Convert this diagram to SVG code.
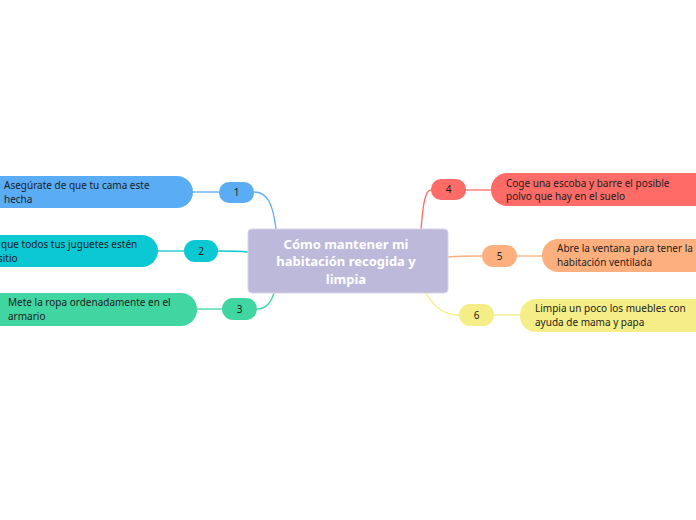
<svg xmlns="http://www.w3.org/2000/svg" width="696" height="520" viewBox="0 0 696 520">
<style>
.t{font-family:"Noto Sans","Open Sans","DejaVu Sans",sans-serif;font-size:10px;fill:#1d1d1d}
.n{font-family:"Noto Sans","Open Sans","DejaVu Sans",sans-serif;font-size:10px;fill:#1d1d1d;text-anchor:middle}
.c{font-family:"Noto Sans","Open Sans","DejaVu Sans",sans-serif;font-size:13px;font-weight:bold;fill:#ffffff;text-anchor:middle}
.l{fill:none;stroke-width:1.3}
</style>
<rect width="696" height="520" fill="#ffffff"/>
<g id="connectors">
<path class="l" stroke="#5aacf5" d="M276 229 C273 205 268 192 254 192"/>
<path class="l" stroke="#5aacf5" d="M219 192 L193 192"/>
<path class="l" stroke="#0bc8d3" d="M248 252 C238 251 228 251 218 251"/>
<path class="l" stroke="#0bc8d3" d="M184 251 L158 251"/>
<path class="l" stroke="#41d6a1" d="M274 293 C271 303 266 309 257 309"/>
<path class="l" stroke="#41d6a1" d="M222 309 L197 309"/>
<path class="l" stroke="#ff6b66" d="M421 229 C423 205 425 190 431 190"/>
<path class="l" stroke="#ff6b66" d="M466 190 L491 190"/>
<path class="l" stroke="#fdb07e" d="M448 257 C460 256 470 256 482 256"/>
<path class="l" stroke="#fdb07e" d="M517 256 L542 256"/>
<path class="l" stroke="#f5ee86" d="M426 293 C433 306 444 315 459 315"/>
<path class="l" stroke="#f5ee86" d="M494 315 L520 315"/>
</g>
<g id="central">
<rect x="248" y="229" width="200" height="64" rx="4" fill="#bcb9da" stroke="#d6d3ea" stroke-width="1"/>
<text class="c" x="346" y="249">Cómo mantener mi</text>
<text class="c" x="346" y="266">habitación recogida y</text>
<text class="c" x="346" y="284">limpia</text>
</g>
<g id="n1">
<rect x="219" y="182" width="35" height="21" rx="10" fill="#5aacf5"/>
<text class="n" x="236.5" y="196">1</text>
<rect x="-20" y="176" width="213" height="32" rx="16" fill="#5aacf5"/>
<text class="t" x="4" y="189">Asegúrate de que tu cama este</text>
<text class="t" x="4" y="203">hecha</text>
</g>
<g id="n2">
<rect x="184" y="240" width="34" height="22" rx="11" fill="#0bc8d3"/>
<text class="n" x="201" y="255">2</text>
<rect x="-20" y="235" width="178" height="32" rx="16" fill="#0bc8d3"/>
<text class="t" x="1" y="248">que todos tus juguetes estén</text>
<text class="t" x="-2" y="262">sitio</text>
</g>
<g id="n3">
<rect x="222" y="298" width="35" height="22" rx="11" fill="#41d6a1"/>
<text class="n" x="239.5" y="313">3</text>
<rect x="-20" y="293" width="217" height="33" rx="16" fill="#41d6a1"/>
<text class="t" x="8" y="306">Mete la ropa ordenadamente en el</text>
<text class="t" x="8" y="320">armario</text>
</g>
<g id="n4">
<rect x="431" y="179" width="35" height="21" rx="10" fill="#ff6b66"/>
<text class="n" x="448.5" y="193">4</text>
<rect x="491" y="173" width="230" height="33" rx="16" fill="#ff6b66"/>
<text class="t" x="506" y="187">Coge una escoba y barre el posible</text>
<text class="t" x="506" y="200">polvo que hay en el suelo</text>
</g>
<g id="n5">
<rect x="482" y="245" width="35" height="22" rx="11" fill="#fdb07e"/>
<text class="n" x="499.5" y="260">5</text>
<rect x="542" y="239" width="180" height="33" rx="16" fill="#fdb07e"/>
<text class="t" x="557" y="252">Abre la ventana para tener la</text>
<text class="t" x="557" y="266">habitación ventilada</text>
</g>
<g id="n6">
<rect x="459" y="304" width="35" height="22" rx="11" fill="#f5ee86"/>
<text class="n" x="476.5" y="319">6</text>
<rect x="520" y="299" width="200" height="33" rx="16" fill="#f5ee86"/>
<text class="t" x="535" y="312">Limpia un poco los muebles con</text>
<text class="t" x="535" y="326">ayuda de mama y papa</text>
</g>
</svg>
